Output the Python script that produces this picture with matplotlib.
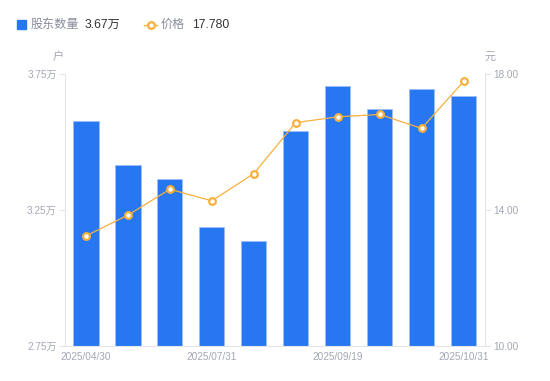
import matplotlib
matplotlib.use("Agg")
import matplotlib.pyplot as plt
from matplotlib.lines import Line2D
import numpy as np

plt.rcParams['font.family'] = ['Liberation Sans', 'Noto Sans CJK SC', 'DejaVu Sans']

dates = ["2025/04/30", "2025/06/10", "2025/06/30", "2025/07/31", "2025/08/20",
         "2025/08/31", "2025/09/19", "2025/09/30", "2025/10/20", "2025/10/31"]
holders = [3.578, 3.417, 3.363, 3.186, 3.135, 3.541, 3.707, 3.621, 3.694, 3.67]  # 万户
price = [13.24, 13.85, 14.61, 14.27, 15.07, 16.57, 16.74, 16.81, 16.40, 17.78]
left_ticks = [2.75, 3.25, 3.75]
right_ticks = [10.0, 14.0, 18.0]
shown_idx = [0, 3, 6, 9]

BLUE = "#2777F2"
ORANGE = "#F7B03C"
GRID = "#E3E5EA"
TXT = "#A3A6B4"
DARK = "#333333"

fig = plt.figure(figsize=(5.5, 3.81), dpi=100)
ax = fig.add_axes([65/550, 1-346/381, (484.5-65)/550, (346-74)/381])
x = np.arange(len(dates))
ax.bar(x, holders, width=0.6, color=BLUE, edgecolor="#9BBEF8", linewidth=0.6, zorder=2)
ax.set_ylim(2.75, 3.75)
ax.set_xlim(-0.5, len(dates)-0.5)
ax.set_yticks(left_ticks)
ax.set_yticklabels([f"{v:.2f}万" for v in left_ticks])
ax.set_xticks([x[i] for i in shown_idx])
ax.set_xticklabels([dates[i] for i in shown_idx])

ax2 = ax.twinx()
ax2.plot(x, price, color=ORANGE, linewidth=0.9, marker="o", markersize=4.8,
         markerfacecolor="white", markeredgecolor=ORANGE, markeredgewidth=1.6, zorder=3)
ax2.set_ylim(10, 18)
ax2.set_yticks(right_ticks)
ax2.set_yticklabels([f"{v:.2f}" for v in right_ticks])

for a in (ax, ax2):
    for s in a.spines.values():
        s.set_visible(False)
    a.tick_params(colors=GRID, labelcolor=TXT, labelsize=7.2, length=4, width=0.8)
ax.spines['left'].set_visible(True)
ax.spines['left'].set_color(GRID)
ax.spines['bottom'].set_visible(True)
ax.spines['bottom'].set_color(GRID)
ax2.spines['right'].set_visible(True)
ax2.spines['right'].set_color(GRID)
ax.tick_params(axis='x', length=0, pad=4)
ax.tick_params(axis='y', pad=2)
ax2.tick_params(axis='y', pad=2)

fig.text(58/550, 1-57/381, "户", color=TXT, fontsize=8, ha='center', va='center')
fig.text(490/550, 1-57/381, "元", color=TXT, fontsize=8, ha='center', va='center')

# legend
fig.patches.append(plt.Rectangle((17/550, 1-29/381), 9/550, 9/381, transform=fig.transFigure,
                                 color=BLUE, figure=fig))
fig.text(31/550, 1-24.5/381, "股东数量", color="#8A8D99", fontsize=8.7, va='center')
fig.text(85/550, 1-24.5/381, f"{holders[-1]:.2f}万", color=DARK, fontsize=8.7, va='center')
fig.lines.append(Line2D([144/550, 157/550], [1-24.5/381, 1-24.5/381], transform=fig.transFigure,
                        color=ORANGE, linewidth=1, figure=fig))
fig.lines.append(Line2D([150.5/550], [1-24.5/381], transform=fig.transFigure, color=ORANGE,
                        marker="o", markersize=4.8, markerfacecolor="white", markeredgewidth=1.6,
                        linestyle='none', figure=fig))
fig.text(161/550, 1-24.5/381, "价格", color="#8A8D99", fontsize=8.7, va='center')
fig.text(192/550, 1-24.5/381, f"{price[-1]:.3f}", color=DARK, fontsize=8.7, va='center')

fig.savefig("out.png", dpi=100)
